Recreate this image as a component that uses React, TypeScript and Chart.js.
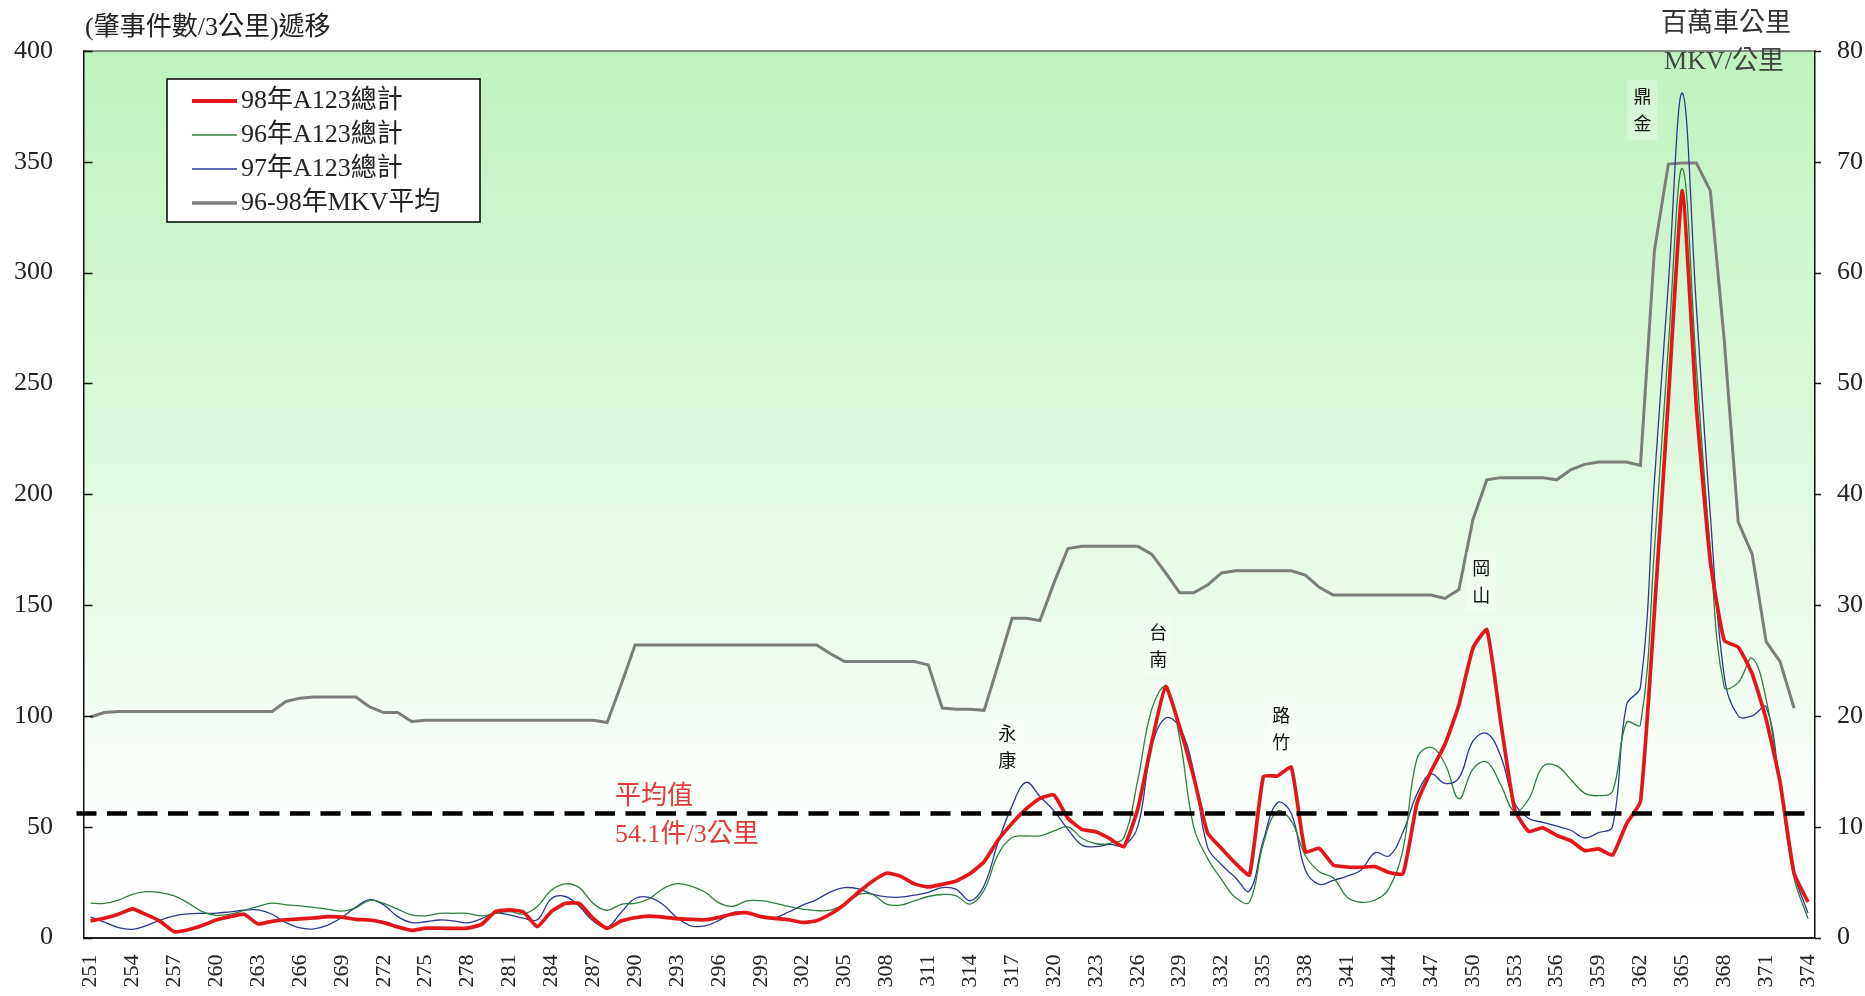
import React, { useEffect, useRef } from 'react';
import { Chart, registerables } from 'chart.js';

Chart.register(...registerables);

const categories = [
  '251','252','253','254','255','256','257','258','259','260',
  '261','262','263','264','265','266','267','268','269','270',
  '271','272','273','274','275','276','277','278','279','280',
  '281','282','283','284','285','286','287','288','289','290',
  '291','292','293','294','295','296','297','298','299','300',
  '301','302','303','304','305','306','307','308','309','310',
  '311','312','313','314','315','316','317','318','319','320',
  '321','322','323','324','325','326','327','328','329','330',
  '331','332','333','334','335','336','337','338','339','340',
  '341','342','343','344','345','346','347','348','349','350',
  '351','352','353','354','355','356','357','358','359','360',
  '361','362','363','364','365','366','367','368','369','370',
  '371','372','373','374',
];

const xTickLabels = [
  '251','254','257','260','263','266','269','272','275','278','281','284','287','290',
  '293','296','299','302','305','308','311','314','317','320','323','326','329','332',
  '335','338','341','344','347','350','353','356','359','362','365','368','371','374',
];

const seriesLabels = ['98年A123總計', '96年A123總計', '97年A123總計', '96-98年MKV平均'];

// 98年 A123 total (left axis)
const red98 = [
  7.5, 8.7, 10.5, 12.9, 10.3, 7.3, 2.6, 3.5, 5.4, 7.9,
  9.4, 10.5, 6.1, 7.3, 8.0, 8.4, 8.8, 9.4, 9.2, 8.2,
  7.9, 6.7, 4.8, 3.2, 4.2, 4.2, 4.1, 4.2, 5.9, 11.7,
  12.5, 11.5, 4.9, 11.7, 15.4, 15.4, 8.6, 4.1, 7.4, 8.9,
  9.6, 9.2, 8.5, 8.2, 8.0, 9.1, 10.6, 11.2, 9.4, 8.6,
  8.0, 6.8, 7.6, 10.6, 14.9, 20.4, 25.4, 29.0, 27.7, 24.2,
  22.8, 24.0, 25.5, 28.9, 34.2, 44.0, 51.5, 58.0, 62.8, 64.3,
  53.8, 48.8, 47.7, 44.6, 41.0, 58.0, 88.0, 113.3, 95.0, 72.6,
  47.2, 40.2, 33.5, 28.2, 72.6, 72.9, 76.8, 38.7, 40.2, 32.7,
  31.8, 31.7, 32.0, 29.3, 28.8, 60.6, 75.0, 87.2, 105.0, 130.5,
  138.9, 97.0, 57.5, 47.9, 49.5, 46.1, 43.7, 39.2, 40.0, 37.2,
  51.3, 61.4, 147, 243, 337, 240, 170, 134, 131, 119,
  98.5, 70, 29, 16,
];

// 96年 A123 total (left axis)
const green96 = [
  15.5, 15.4, 16.9, 19.5, 20.7, 20.3, 18.8, 15.5, 11.7, 10.0,
  10.5, 12.2, 14.0, 15.5, 14.7, 14.3, 13.6, 12.7, 11.9, 13.4,
  16.8, 15.4, 12.8, 10.2, 9.8, 10.9, 10.9, 10.9, 9.8, 10.9,
  11.7, 10.6, 14.0, 21.3, 24.2, 22.5, 15.4, 12.3, 15.0, 15.4,
  17.5, 22.0, 24.3, 23.2, 20.5, 15.6, 14.1, 16.5, 16.6, 15.5,
  14.0, 12.8, 12.1, 12.4, 14.9, 19.3, 19.4, 15.1, 14.6, 16.5,
  18.5, 19.4, 18.8, 15.1, 21.4, 37.5, 45.1, 45.8, 45.9, 48.1,
  49.9, 44.8, 42.3, 42.5, 45.0, 71.0, 103.0, 113.0, 90.0, 50.0,
  35.7, 26.2, 18.0, 16.0, 42.5, 57.0, 52.5, 37.0, 29.7, 27.0,
  18.2, 15.9, 16.9, 22.3, 40.0, 80.8, 85.8, 78.4, 62.6, 76.0,
  79.2, 68.8, 56.8, 62.5, 77.1, 77.4, 71.4, 65.1, 64.0, 66.0,
  97, 96, 175, 267, 347, 258, 175, 113, 115, 126,
  107.6, 68.5, 27, 8.5,
];

// 97年 A123 total (left axis)
const blue97 = [
  9.2, 6.9, 4.5, 3.7, 5.4, 7.9, 9.8, 10.7, 10.9, 11.0,
  11.6, 12.3, 12.5, 10.5, 6.7, 4.3, 3.9, 5.6, 9.0, 13.7,
  17.1, 14.7, 9.4, 6.7, 7.1, 7.9, 7.5, 6.6, 8.5, 10.9,
  10.2, 8.7, 8.0, 17.5, 18.5, 14.1, 7.4, 4.8, 11.3, 17.6,
  18.1, 14.9, 8.9, 5.3, 5.2, 7.7, 11.2, 11.4, 9.5, 9.0,
  11.5, 14.6, 17.1, 20.6, 22.5, 21.9, 19.6, 18.3, 18.2, 19.1,
  20.4, 22.5, 21.7, 16.6, 23.5, 43.0, 59.4, 70.0, 63.6, 57.1,
  48.8, 41.7, 41.0, 42.0, 41.5, 50.0, 86.0, 99.0, 95.0, 75.0,
  40.8, 32.8, 27.0, 21.0, 44.0, 60.8, 56.0, 30.5, 24.0, 25.8,
  27.7, 30.5, 38.3, 36.8, 47.7, 64.8, 73.8, 69.5, 72.0, 88.6,
  92.1, 81.7, 60.6, 53.7, 52.0, 50.2, 48.4, 44.9, 47.3, 50.0,
  105, 113, 206, 295, 381, 285, 191, 118, 100, 100,
  104, 68.5, 29, 11,
];

// 96-98年 MKV average (right axis)
const mkvAvg = [
  19.9, 20.3, 20.4, 20.4, 20.4, 20.4, 20.4, 20.4, 20.4, 20.4,
  20.4, 20.4, 20.4, 20.4, 21.3, 21.6, 21.7, 21.7, 21.7, 21.7,
  20.8, 20.3, 20.3, 19.5, 19.6, 19.6, 19.6, 19.6, 19.6, 19.6,
  19.6, 19.6, 19.6, 19.6, 19.6, 19.6, 19.6, 19.4, 22.8, 26.4,
  26.4, 26.4, 26.4, 26.4, 26.4, 26.4, 26.4, 26.4, 26.4, 26.4,
  26.4, 26.4, 26.4, 25.6, 24.9, 24.9, 24.9, 24.9, 24.9, 24.9,
  24.6, 20.7, 20.6, 20.6, 20.5, 24.6, 28.8, 28.8, 28.6, 32.0,
  35.1, 35.3, 35.3, 35.3, 35.3, 35.3, 34.6, 32.9, 31.1, 31.1,
  31.8, 32.9, 33.1, 33.1, 33.1, 33.1, 33.1, 32.7, 31.6, 30.9,
  30.9, 30.9, 30.9, 30.9, 30.9, 30.9, 30.9, 30.6, 31.4, 37.7,
  41.3, 41.5, 41.5, 41.5, 41.5, 41.3, 42.2, 42.7, 42.9, 42.9,
  42.9, 42.6, 62.0, 69.8, 69.9, 69.9, 67.4, 53.9, 37.5, 34.6,
  26.7, 24.9, 20.7, null,
];

const leftAxisTitle = '(肇事件數/3公里)遞移';
const rightAxisTitle = ['百萬車公里', 'MKV/公里'];

const averageValue = 56;
const averageText = ['平均值', '54.1件/3公里'];
const averageTextAt = 288.57; // category number
const averageTextValues = [63.4, 46.2];

const stationNames = ['永康', '台南', '路竹', '岡山', '鼎金'];
const stationAt = [316.65, 327.47, 336.28, 350.6, 362.14]; // category number
const stationTop = [92.2, 137.8, 100.4, 166.7, 379.6]; // left-axis value of first char

const SERIF = '"Liberation Serif", "Noto Sans CJK TC", serif';
const CJK = '"Noto Sans CJK TC", sans-serif';

const colors = ['#e3161c', '#2f7f3f', '#2b3a8f', '#7d7d7d'];
const widths = [3.7, 1.3, 1.3, 3];

const firstCat = Number(categories[0]);

const bgPlugin = {
  id: 'bgGradient',
  beforeDraw(chart: any) {
    const { ctx, chartArea: a } = chart;
    if (!a) return;
    const g = ctx.createLinearGradient(0, a.top, 0, a.bottom);
    g.addColorStop(0, '#bff2bf');
    g.addColorStop(0.85, '#fbfffb');
    g.addColorStop(1, '#ffffff');
    ctx.save();
    ctx.fillStyle = g;
    ctx.fillRect(a.left, a.top, a.right - a.left, a.bottom - a.top);
    ctx.restore();
  },
};

const averagePlugin = {
  id: 'averageLine',
  afterDatasetsDraw(chart: any) {
    const { ctx } = chart;
    const xs = chart.scales.x;
    const ys = chart.scales.y;
    const y = ys.getPixelForValue(averageValue);
    const x0 = xs.getPixelForValue(0) - 14;
    const x1 = xs.getPixelForValue(categories.length - 1);
    ctx.save();
    ctx.strokeStyle = '#000';
    ctx.lineWidth = 4.5;
    ctx.setLineDash([20, 10.5]);
    ctx.beginPath();
    ctx.moveTo(x0, y);
    ctx.lineTo(x1, y);
    ctx.stroke();
    ctx.restore();
  },
};

const decorPlugin = {
  id: 'decor',
  afterDraw(chart: any) {
    const { ctx, chartArea: a } = chart;
    const xs = chart.scales.x;
    const ys = chart.scales.y;
    const y1 = chart.scales.y1;
    ctx.save();

    // top border
    ctx.strokeStyle = '#666';
    ctx.lineWidth = 1.5;
    ctx.beginPath();
    ctx.moveTo(a.left, a.top);
    ctx.lineTo(a.right, a.top);
    ctx.stroke();

    // left ticks (inward)
    ctx.strokeStyle = '#111';
    ctx.lineWidth = 1.5;
    ys.ticks.forEach((t: any) => {
      const py = Math.round(ys.getPixelForValue(t.value)) + 0.5;
      ctx.beginPath();
      ctx.moveTo(a.left, py);
      ctx.lineTo(a.left + 9, py);
      ctx.stroke();
    });
    // right ticks (outward)
    y1.ticks.forEach((t: any) => {
      const py = Math.round(y1.getPixelForValue(t.value)) + 0.5;
      ctx.beginPath();
      ctx.moveTo(a.right, py);
      ctx.lineTo(a.right + 6, py);
      ctx.stroke();
    });

    // left title
    ctx.fillStyle = '#222';
    ctx.font = '26px ' + SERIF;
    ctx.textAlign = 'left';
    ctx.textBaseline = 'middle';
    ctx.fillText(leftAxisTitle, 85, 28);

    // right title
    ctx.textAlign = 'center';
    ctx.fillStyle = '#333';
    ctx.fillText(rightAxisTitle[0], 1726, 24);
    ctx.fillStyle = '#444';
    ctx.fillText(rightAxisTitle[1], 1724, 62);

    // station annotations
    ctx.font = '18px ' + CJK;
    stationNames.forEach((name, i) => {
      const px = xs.getPixelForValue(stationAt[i] - firstCat);
      const py = ys.getPixelForValue(stationTop[i]);
      ctx.fillStyle = 'rgba(255,255,255,0.3)';
      ctx.fillRect(px - 15, py - 16, 30, 60);
      ctx.fillStyle = '#111';
      ctx.textAlign = 'center';
      ctx.textBaseline = 'middle';
      ctx.fillText(name[0], px, py);
      ctx.fillText(name[1], px, py + 27);
    });

    // average text
    ctx.fillStyle = '#e03c3c';
    ctx.font = '26px ' + SERIF;
    ctx.textAlign = 'left';
    ctx.textBaseline = 'middle';
    averageText.forEach((t, i) => {
      const px = xs.getPixelForValue(averageTextAt - firstCat);
      const py = ys.getPixelForValue(averageTextValues[i]);
      ctx.fillText(t, px, py);
    });

    // legend
    const bx = 167, by = 79, bw = 313, bh = 143;
    ctx.fillStyle = '#ffffff';
    ctx.fillRect(bx, by, bw, bh);
    ctx.strokeStyle = '#000';
    ctx.lineWidth = 1.5;
    ctx.strokeRect(bx, by, bw, bh);
    const rows = [101, 135, 169, 203];
    chart.data.datasets.forEach((ds: any, i: number) => {
      const ry = rows[i];
      ctx.strokeStyle = ds.borderColor;
      ctx.lineWidth = i === 0 ? 4 : i === 3 ? 3.5 : 1.5;
      ctx.beginPath();
      ctx.moveTo(192, ry);
      ctx.lineTo(237, ry);
      ctx.stroke();
      ctx.fillStyle = '#222';
      ctx.font = '26px ' + SERIF;
      ctx.textAlign = 'left';
      ctx.textBaseline = 'middle';
      ctx.fillText(ds.label, 241, ry);
    });

    ctx.restore();
  },
};

export default function App() {
  const canvasRef = useRef<HTMLCanvasElement | null>(null);

  useEffect(() => {
    const canvas = canvasRef.current;
    if (!canvas) return;
    Chart.defaults.font.family = SERIF;

    const chart = new Chart(canvas, {
      type: 'line',
      data: {
        labels: categories,
        datasets: [
          { label: seriesLabels[0], data: red98, borderColor: colors[0], backgroundColor: colors[0], borderWidth: widths[0], pointRadius: 0, tension: 0.15, yAxisID: 'y' },
          { label: seriesLabels[1], data: green96, borderColor: colors[1], backgroundColor: colors[1], borderWidth: widths[1], pointRadius: 0, tension: 0.4, yAxisID: 'y' },
          { label: seriesLabels[2], data: blue97, borderColor: colors[2], backgroundColor: colors[2], borderWidth: widths[2], pointRadius: 0, tension: 0.4, yAxisID: 'y' },
          { label: seriesLabels[3], data: mkvAvg, borderColor: colors[3], backgroundColor: colors[3], borderWidth: widths[3], pointRadius: 0, tension: 0, yAxisID: 'y1' },
        ],
      },
      options: {
        responsive: false,
        animation: false,
        events: [],
        layout: { padding: { top: 51, left: 0, right: 0, bottom: 0 } },
        plugins: {
          legend: { display: false },
          tooltip: { enabled: false },
          title: { display: false },
        },
        scales: {
          x: {
            type: 'category',
            offset: true,
            grid: { display: false, drawTicks: false },
            border: { display: true, color: '#222', width: 2 },
            ticks: {
              autoSkip: false,
              maxRotation: 90,
              minRotation: 90,
              padding: 17,
              color: '#222',
              font: { size: 22, family: SERIF },
              callback: (_v: any, i: number) => (xTickLabels.includes(categories[i]) ? categories[i] : ''),
            },
            afterFit: (s: any) => { s.height = 58.5; },
          },
          y: {
            position: 'left',
            min: 0,
            max: 400,
            grid: { display: false, drawTicks: false },
            border: { display: true, color: '#111', width: 1.5 },
            ticks: { stepSize: 50, padding: 30.5, color: '#222', font: { size: 26, family: SERIF } },
            afterFit: (s: any) => { s.width = 83.5; },
          },
          y1: {
            position: 'right',
            min: 0,
            max: 80,
            grid: { display: false, drawTicks: false },
            border: { display: true, color: '#111', width: 1.5 },
            ticks: { stepSize: 10, padding: 22, color: '#222', font: { size: 26, family: SERIF } },
            afterFit: (s: any) => { s.width = 50; },
          },
        },
      },
      plugins: [bgPlugin, averagePlugin, decorPlugin],
    } as any);

    return () => chart.destroy();
  }, []);

  return (
    <div style={{ position: 'absolute', left: 0, top: 0, width: 1865, height: 996, background: '#fff' }}>
      <canvas ref={canvasRef} width={1865} height={996} style={{ display: 'block', width: 1865, height: 996 }} />
    </div>
  );
}
